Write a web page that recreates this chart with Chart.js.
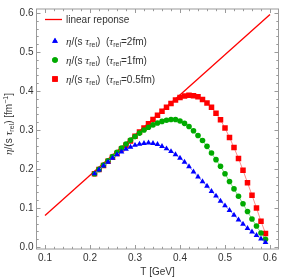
<!DOCTYPE html>
<html><head><meta charset="utf-8">
<script src="https://cdn.jsdelivr.net/npm/chart.js@4.4.1/dist/chart.umd.min.js"></script>
<style>html,body{margin:0;padding:0;background:#fff}canvas{display:block}</style>
</head><body>
<canvas id="c" width="284" height="279"></canvas>
<script>
// ---- data ----
const temps = [0.21,0.22,0.23,0.24,0.25,0.26,0.27,0.28,0.29,0.30,
               0.31,0.32,0.33,0.34,0.35,0.36,0.37,0.38,0.39,0.40,
               0.41,0.42,0.43,0.44,0.45,0.46,0.47,0.48,0.49,0.50,
               0.51,0.52,0.53,0.54,0.55,0.56,0.57,0.58,0.59];
const linearT = [0.1, 0.6];
const linearY = [0.081, 0.596];
const tau2fm = [0.188,0.198,0.208,0.218,0.228,0.237,0.244,0.251,0.256,0.261,
                0.264,0.266,0.267,0.266,0.263,0.258,0.252,0.245,0.237,0.228,
                0.218,0.206,0.193,0.180,0.168,0.156,0.143,0.131,0.118,0.106,
                0.094,0.082,0.070,0.059,0.048,0.039,0.030,0.021,0.012];
const tau1fm = [0.188,0.199,0.210,0.221,0.232,0.243,0.254,0.264,0.274,0.283,
                0.292,0.300,0.307,0.313,0.318,0.322,0.325,0.327,0.327,0.323,
                0.317,0.309,0.298,0.286,0.273,0.258,0.241,0.224,0.207,0.188,
                0.168,0.149,0.130,0.111,0.091,0.072,0.054,0.036,0.020];
const tau05fm = [0.188,0.199,0.209,0.220,0.230,0.240,0.251,0.261,0.272,0.284,
                 0.295,0.305,0.316,0.327,0.338,0.348,0.358,0.368,0.377,0.383,
                 0.387,0.389,0.388,0.385,0.378,0.369,0.358,0.343,0.326,0.305,
                 0.281,0.255,0.227,0.197,0.165,0.133,0.100,0.066,0.035];
const xTicks = [0.1,0.2,0.3,0.4,0.5,0.6];
const yTicks = [0.0,0.1,0.2,0.3,0.4,0.5,0.6];
const legendLinear = 'linear reponse';
const legendTau = ['2fm','1fm','0.5fm'];
const xTitle = 'T [GeV]';

// ---- helpers ----
const pts = (xs, ys) => xs.map((x, i) => ({x: x, y: ys[i]}));
const SANS = '"Liberation Sans", Arial, sans-serif';
const SERIF = '"Liberation Serif", "Times New Roman", serif';
const TXT = '#333';
const FRAME = '#9a9a9a';

function segFont(s, size) {
  if (s.k === 'g') return 'italic ' + (size + 1) + 'px ' + SERIF;
  if (s.k === 'sub' || s.k === 'sup') return (size - 3) + 'px ' + SANS;
  return size + 'px ' + SANS;
}
function richWidth(ctx, segs, size) {
  let w = 0;
  segs.forEach(s => { ctx.font = segFont(s, size); w += ctx.measureText(s.t).width; });
  return w;
}
function drawRich(ctx, segs, x, y, size) {
  let cx = x;
  ctx.textBaseline = 'alphabetic';
  ctx.textAlign = 'left';
  segs.forEach(s => {
    ctx.font = segFont(s, size);
    let dy = 0;
    if (s.k === 'sub') dy = 2.5;
    if (s.k === 'sup') dy = -4;
    ctx.fillText(s.t, cx, y + dy);
    cx += ctx.measureText(s.t).width;
  });
}
function etaSegs(tau) {
  return [{t:'η',k:'g'},{t:'/(s '},{t:'τ',k:'g'},{t:'rel',k:'sub'},{t:')  ('},
          {t:'τ',k:'g'},{t:'rel',k:'sub'},{t:'=' + tau + ')'}];
}

const framePlugin = {
  id: 'frame',
  beforeDatasetsDraw(chart) {
    const {ctx, chartArea: a, scales: {x, y}} = chart;
    ctx.save();
    ctx.strokeStyle = FRAME;
    ctx.lineWidth = 1;
    ctx.strokeRect(a.left, a.top, a.right - a.left, a.bottom - a.top);
    ctx.beginPath();
    const step = 0.02;
    for (let k = Math.ceil(x.min / step - 1e-9); k <= Math.floor(x.max / step + 1e-9); k++) {
      const v = k * step;
      const major = Math.abs(v * 10 - Math.round(v * 10)) < 1e-6;
      const len = major ? 4 : 2.2;
      const px = Math.round(x.getPixelForValue(v)) + 0.5;
      ctx.moveTo(px, a.bottom); ctx.lineTo(px, a.bottom - len);
      ctx.moveTo(px, a.top); ctx.lineTo(px, a.top + len);
    }
    for (let k = Math.ceil(y.min / step - 1e-9); k <= Math.floor(y.max / step + 1e-9); k++) {
      const v = k * step;
      const major = Math.abs(v * 10 - Math.round(v * 10)) < 1e-6;
      const len = major ? 4 : 2.2;
      const py = Math.round(y.getPixelForValue(v)) + 0.5;
      ctx.moveTo(a.left, py); ctx.lineTo(a.left + len, py);
      ctx.moveTo(a.right, py); ctx.lineTo(a.right - len, py);
    }
    ctx.stroke();
    ctx.restore();
  },
  afterDraw(chart) {
    const {ctx, chartArea: a} = chart;
    ctx.save();
    ctx.fillStyle = TXT;
    // x title
    ctx.font = '10px ' + SANS;
    ctx.textAlign = 'center';
    ctx.textBaseline = 'middle';
    ctx.fillText(xTitle, (a.left + a.right) / 2, 272);
    // y title
    const ySegs = [{t:'η',k:'g'},{t:'/(s '},{t:'τ',k:'g'},{t:'rel',k:'sub'},{t:') [fm'},
                   {t:'−1',k:'sup'},{t:']'}];
    const w = richWidth(ctx, ySegs, 10);
    ctx.save();
    ctx.translate(11.5, 124);
    ctx.rotate(-Math.PI / 2);
    drawRich(ctx, ySegs, -w / 2, 0, 10);
    ctx.restore();
    // legend
    const tx = 66;
    ctx.strokeStyle = '#ff0000';
    ctx.lineWidth = 1.3;
    ctx.beginPath(); ctx.moveTo(45, 19.5); ctx.lineTo(62, 19.5); ctx.stroke();
    ctx.fillStyle = TXT;
    ctx.font = '10px ' + SANS;
    ctx.textAlign = 'left'; ctx.textBaseline = 'alphabetic';
    ctx.fillText(legendLinear, tx, 23);
    const rows = [41, 60, 79];
    const styles = [
      {style:'triangle', r:3.3, c:'#0000ff'},
      {style:'circle', r:2.8, c:'#00aa00'},
      {style:'rect', r:3.9, c:'#ff0000'}
    ];
    rows.forEach((ry, i) => {
      ctx.fillStyle = styles[i].c;
      Chart.helpers.drawPoint(ctx, {pointStyle: styles[i].style, radius: styles[i].r, borderWidth: 0, rotation: 0}, 55, ry);
      ctx.fill();
      ctx.fillStyle = TXT;
      drawRich(ctx, etaSegs(legendTau[i]), tx, ry + 3.5, 10);
    });
    ctx.restore();
  }
};

new Chart(document.getElementById('c'), {
  type: 'scatter',
  data: {
    datasets: [
      {label: 'tau2fm', data: pts(temps, tau2fm), showLine: true,
       borderColor: '#8c8cff', borderWidth: 1, pointStyle: 'triangle', pointRadius: 3.3,
       pointBackgroundColor: '#0000ff', pointBorderWidth: 0, order: 1},
      {label: 'tau1fm', data: pts(temps, tau1fm), showLine: true,
       borderColor: '#80dd80', borderWidth: 1, pointStyle: 'circle', pointRadius: 2.8,
       pointBackgroundColor: '#00aa00', pointBorderWidth: 0, order: 2},
      {label: 'tau05fm', data: pts(temps, tau05fm), showLine: true,
       borderColor: '#ff8c8c', borderWidth: 1, pointStyle: 'rect', pointRadius: 3.9,
       pointBackgroundColor: '#ff0000', pointBorderWidth: 0, order: 3},
      {label: 'linear', data: pts(linearT, linearY), showLine: true,
       borderColor: '#ff0000', borderWidth: 1.3, pointRadius: 0, order: 4}
    ]
  },
  options: {
    responsive: false,
    devicePixelRatio: 1,
    animation: false,
    layout: {padding: {top: 7.5, right: 5.5, left: 0, bottom: 0}},
    plugins: {legend: {display: false}, tooltip: {enabled: false}},
    scales: {
      x: {
        type: 'linear', min: 0.0811, max: 0.6189,
        grid: {display: false, drawTicks: false},
        border: {display: false},
        afterFit(s) { s.height = 30; },
        afterBuildTicks(s) { s.ticks = xTicks.map(v => ({value: v})); },
        ticks: {color: TXT, font: {size: 10, family: SANS}, padding: 3,
                maxRotation: 0, autoSkip: false, callback: v => v.toFixed(1)}
      },
      y: {
        type: 'linear', min: -0.005, max: 0.610,
        grid: {display: false, drawTicks: false},
        border: {display: false},
        afterFit(s) { s.width = 36.5; },
        afterBuildTicks(s) { s.ticks = yTicks.map(v => ({value: v})); },
        ticks: {color: TXT, font: {size: 10, family: SANS}, padding: 3,
                autoSkip: false, callback: v => v.toFixed(1)}
      }
    }
  },
  plugins: [framePlugin]
});
</script>
</body></html>
